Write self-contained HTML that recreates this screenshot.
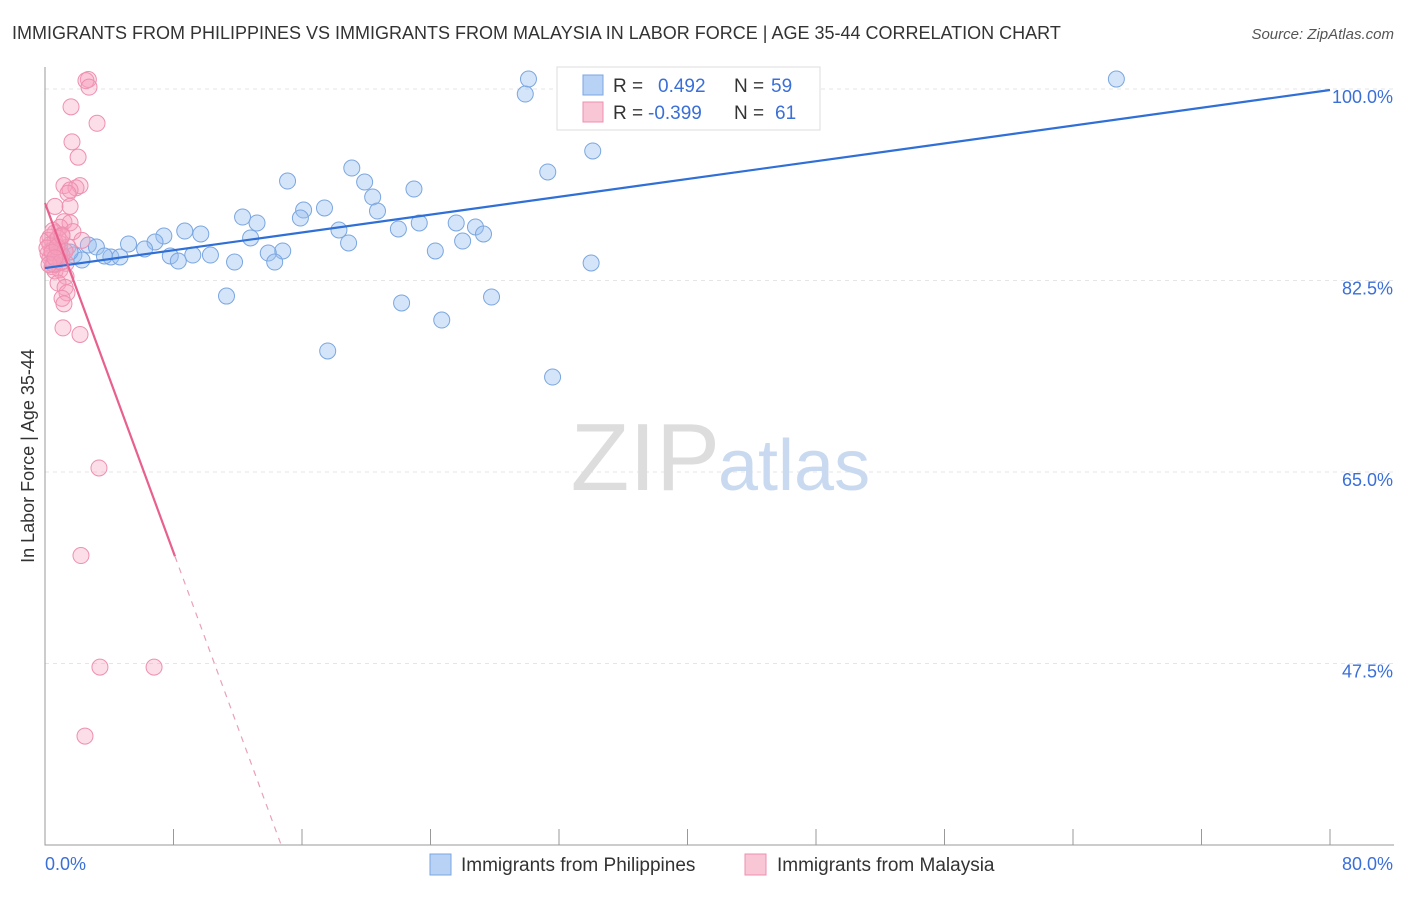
<!DOCTYPE html>
<html><head><meta charset="utf-8"><style>
body{margin:0;background:#fff;font-family:"Liberation Sans",sans-serif}
svg text{font-family:"Liberation Sans",sans-serif}
</style></head><body>
<svg width="1406" height="892" xmlns="http://www.w3.org/2000/svg">
<text x="12" y="39" font-size="18" fill="#333">IMMIGRANTS FROM PHILIPPINES VS IMMIGRANTS FROM MALAYSIA IN LABOR FORCE | AGE 35-44 CORRELATION CHART</text>
<text x="1394" y="39" font-size="15" fill="#555" font-style="italic" text-anchor="end">Source: ZipAtlas.com</text>
<g id="grid"></g>
<text x="720" y="490" font-size="96" fill="#ddd" text-anchor="end" font-family="Liberation Serif">ZIP</text>
<text x="718" y="490" font-size="72" fill="#c9daf0">atlas</text>
<text transform="translate(34,456) rotate(-90)" font-size="18" fill="#333" text-anchor="middle">In Labor Force | Age 35-44</text>
<g id="axes"></g>
<g id="pts"></g>
<g id="lines"></g>
<g>
<rect x="557" y="67" width="263" height="63" fill="#fff" stroke="#ddd"/>
<rect x="583" y="75" width="20" height="20" fill="#b8d2f5" stroke="#7aa6e0"/>
<rect x="583" y="102" width="20" height="20" fill="#f9c6d6" stroke="#ee8fb0"/>
<text x="613" y="92" font-size="19" fill="#333">R = <tspan fill="#3a6fd8" x="658">0.492</tspan><tspan x="734" fill="#333">N =</tspan><tspan x="771" fill="#3a6fd8">59</tspan></text>
<text x="613" y="119" font-size="19" fill="#333">R = <tspan fill="#3a6fd8" x="648">-0.399</tspan><tspan x="734" fill="#333">N =</tspan><tspan x="775" fill="#3a6fd8">61</tspan></text>
</g>
<g>
<rect x="430" y="854" width="21" height="21" fill="#b8d2f5" stroke="#7aa6e0"/>
<text x="461" y="871" font-size="19" fill="#333">Immigrants from Philippines</text>
<rect x="745" y="854" width="21" height="21" fill="#f9c6d6" stroke="#ee8fb0"/>
<text x="777" y="871" font-size="19" fill="#333">Immigrants from Malaysia</text>
</g>
<script>
const yTicks=[100,82.5,65,47.5];
const xTickVals=[0,8,16,24,32,40,48,56,64,72,80];
const blueX=[30.1,29.9,47.6,66.7,34.1,31.3,19.1,15.1,19.9,22.97,20.4,17.4,16.1,20.7,15.9,12.3,13.2,23.3,25.6,26.8,22,18.3,8.7,9.7,7.4,27.3,12.8,26,6.85,18.9,5.2,2.7,3.2,6.2,14.8,24.3,13.9,10.3,9.2,7.8,4.1,3.7,4.67,1.8,0.93,2.3,8.3,11.8,14.3,34,11.3,27.8,22.2,24.7,17.6,31.6,0.5,0.93,1.56];
const blueY=[101.64,100.27,101.64,101.64,95.07,93.15,93.51,92.32,92.23,91.59,90.86,89.86,89.67,89.58,88.94,89.03,88.49,88.49,88.49,88.12,87.94,87.85,87.75,87.48,87.3,87.48,87.12,86.84,86.75,86.66,86.57,86.48,86.29,86.11,85.93,85.93,85.74,85.56,85.56,85.47,85.38,85.47,85.38,85.56,85.56,85.1,85.01,84.92,84.92,84.83,81.81,81.72,81.18,79.62,76.79,74.41,84.74,86.02,85.84];
const pinkX=[2.7,2.55,2.74,1.62,3.24,1.68,2.06,2.18,1.18,1.93,1.56,1.43,1.56,0.62,1.18,1.56,0.93,1.74,0.62,1.06,0.31,2.3,0.62,0.93,0.31,1.43,0.44,0.81,0.19,1.06,0.31,0.68,1.31,0.44,0.93,0.62,1.31,0.81,1.25,1.37,1.06,1.18,1.12,2.18,3.36,2.24,3.42,6.79,2.49,0.56,0.19,0.5,0.81,0.12,0.44,1.25,0.75,1.0,0.25,0.62,1.06];
const pinkY=[101.6,101.5,100.9,99.1,97.6,95.9,94.5,91.9,91.9,91.7,91.5,91.2,90,90,88.6,88.5,88.1,87.7,87.6,87.4,87.2,86.9,86.8,86.6,86.5,86.3,86,85.8,85.7,85.5,85.3,85.1,84.8,84.5,84.2,84.1,83.6,83,82.6,82.1,81.6,81.1,78.9,78.3,66.1,58.1,47.9,47.9,41.6,84.7,86.9,87.8,87.1,86.2,85.8,85.9,86.3,84.9,84.7,85.3,87.3];
const blueLine=[84.37,100.64];
const pinkLine=[90.31,-3.99];
const NS="http://www.w3.org/2000/svg";
function X(v){return 45+v*16.0625}
function Y(v){return 97+(100-v)*10.943}
function mk(tag,attrs,parent){const e=document.createElementNS(NS,tag);for(const k in attrs)e.setAttribute(k,attrs[k]);document.getElementById(parent).appendChild(e);return e}
yTicks.forEach(t=>{
 const l=mk('line',{x1:45,x2:1394,y1:Y(t)-8,y2:Y(t)-8,stroke:'#e5e5e5','stroke-dasharray':'4,4'},'grid');
 
 
 const tx=mk('text',{x:1393,y:Y(t)+6,'font-size':18,fill:'#3a6fd8','text-anchor':'end'},'grid');
 tx.textContent=t.toFixed(1)+'%';
 
 
});
const ax=mk('path',{d:'M45 67 V845 H1394',fill:'none',stroke:'#999'},'axes');


xTickVals.forEach(t=>{
 const l=mk('line',{x1:X(t),x2:X(t),y1:829,y2:845,stroke:'#999'},'axes');
 
 
});
[[0,'start'],[80,'end']].forEach(([t,a])=>{
 const tx=mk('text',{x:t==0?45:1393,y:870,'font-size':18,fill:'#3a6fd8','text-anchor':a},'axes');
 tx.textContent=t.toFixed(1)+'%';
 
 
});
blueX.forEach((x,i)=>{
 const c=mk('circle',{cx:X(x),cy:Y(blueY[i]),r:8,fill:'rgba(150,190,240,0.4)',stroke:'#7aa6e0','stroke-width':1},'pts');
 
 
});
pinkX.forEach((x,i)=>{
 const c=mk('circle',{cx:X(x),cy:Y(pinkY[i]),r:8,fill:'rgba(245,160,190,0.35)',stroke:'#ee8fb0','stroke-width':1},'pts');
 
 
});
const bl=mk('line',{x1:X(0),y1:Y(blueLine[0]),x2:X(80),y2:Y(blueLine[1]),stroke:'#2f6fd6','stroke-width':2.2},'lines');


const xEnd=8.09, xDash=(pinkLine[0]-31.65)/-pinkLine[1];
const pl=mk('line',{x1:X(0),y1:Y(pinkLine[0]),x2:X(xEnd),y2:Y(pinkLine[0]+pinkLine[1]*xEnd),stroke:'#e8608e','stroke-width':2.2},'lines');


const pd=mk('line',{x1:X(xEnd),y1:Y(pinkLine[0]+pinkLine[1]*xEnd),x2:X(xDash),y2:Y(pinkLine[0]+pinkLine[1]*xDash),stroke:'#e8a0b8','stroke-width':1.2,'stroke-dasharray':'6,6'},'lines');


</script>
</svg>
</body></html>
